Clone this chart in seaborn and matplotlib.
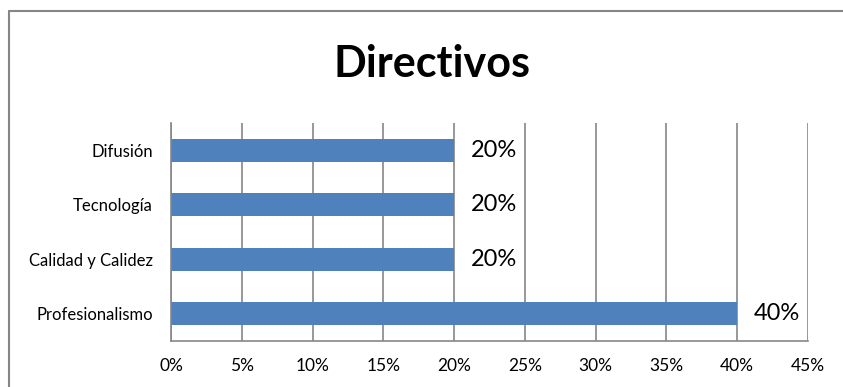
import numpy as np
import pandas as pd
import matplotlib
matplotlib.use("Agg")
import matplotlib.pyplot as plt
import seaborn as sns
from matplotlib.lines import Line2D
from matplotlib.ticker import FuncFormatter

# data
categories = ["Difusión", "Tecnología", "Calidad y Calidez", "Profesionalismo"]
values = [0.20, 0.20, 0.20, 0.40]
labels = ["20%", "20%", "20%", "40%"]

df = pd.DataFrame({"categoria": categories, "valor": values})

sns.set_style("white")
plt.rcParams["font.family"] = ["Lato", "DejaVu Sans"]
plt.rcParams["text.color"] = "black"
plt.rcParams["xtick.color"] = "black"
plt.rcParams["ytick.color"] = "black"

fig = plt.figure(figsize=(8.43, 3.87), dpi=100)
ax = fig.add_axes([171 / 843, 1 - 341 / 387, (808 - 171) / 843, (341 - 123) / 387])

sns.barplot(data=df, x="valor", y="categoria", color="#4F81BD", saturation=1,
            width=0.42, linewidth=0, ax=ax, order=categories)

ax.set_xlim(0, 0.45)
ax.set_xticks(np.arange(0, 0.451, 0.05))
ax.xaxis.set_major_formatter(FuncFormatter(lambda v, p: f"{v * 100:.0f}%"))
ax.grid(axis="x", color="#868686", linewidth=1.2)
ax.set_axisbelow(True)
ax.set_xlabel("")
ax.set_ylabel("")
for s in ["top", "right"]:
    ax.spines[s].set_visible(False)
for s in ["left", "bottom"]:
    ax.spines[s].set_color("#868686")
    ax.spines[s].set_linewidth(1.2)
ax.tick_params(axis="x", labelsize=12.5, pad=12, length=0)
ax.tick_params(axis="y", labelsize=12, pad=13, length=0)

for i, (v, lab) in enumerate(zip(values, labels)):
    ax.text(v + 0.012, i, lab, va="center", ha="left", fontsize=17)

fig.text(0.512, 1 - 64 / 387, "Directivos", ha="center", va="center",
         fontsize=31, fontweight="bold")

# outer chart border: only the left and top edges fall inside the image
x0 = 9 / 843
y0 = 1 - 11 / 387
fig.add_artist(Line2D([x0, x0], [0, y0], transform=fig.transFigure,
                      color="#868686", linewidth=1.5))
fig.add_artist(Line2D([x0, 1], [y0, y0], transform=fig.transFigure,
                      color="#868686", linewidth=1.5))

fig.savefig("out.png", dpi=100)
